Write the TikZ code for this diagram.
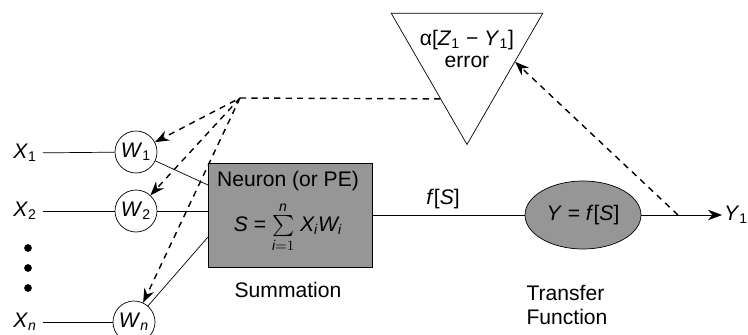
\documentclass[tikz,border=0pt]{standalone}
\usepackage{amsmath}
\usepackage{fontspec}
\setmainfont{Liberation Sans}
\usepackage{tikz}
\usetikzlibrary{arrows.meta, positioning, calc, shapes.geometric}
\definecolor{nnshade}{RGB}{150, 150, 150}

\begin{document}
\begin{tikzpicture}[x=0.02cm, y=-0.02cm, >={Stealth[length=8pt, width=6pt]}, font=\large,
  weight/.style={circle, draw, thin, minimum size=0.84cm, inner sep=0pt},
  wire/.style={thin},
  fb/.style={thick, dash pattern=on 3.5pt off 3pt}]

  \useasboundingbox (0,0) rectangle (748,335);

  % --- inputs and weights ---
  \node (x1) at (25,153) {\textit{X}\textsubscript{1}};
  \node (x2) at (25,211) {\textit{X}\textsubscript{2}};
  \node (xn) at (25,322) {\textit{X}\textsubscript{\textit{n}}};

  \node[weight] (w1) at (136,152) {\textit{W}\textsubscript{1}};
  \node[weight] (w2) at (136,211) {\textit{W}\textsubscript{2}};
  \node[weight] (wn) at (134,322) {\textit{W}\textsubscript{\textit{n}}};

  \draw[wire] (x1) -- (w1);
  \draw[wire] (x2) -- (w2);
  \draw[wire] (xn) -- (wn);

  \fill (28,248) circle (2.2pt);
  \fill (28,268) circle (2.2pt);
  \fill (28,288) circle (2.2pt);

  % --- summation box ---
  \node[draw, fill=nnshade, minimum width=3.28cm, minimum height=2.08cm] (sum) at (290,215) {};
  \node[align=center, inner sep=1pt] (neur) at (288,212)
    {Neuron (or PE)\\[5pt]
     \textit{S} = $\sum\limits_{\textit{i}=1}^{\textit{n}}$ \textit{X\textsubscript{i}W\textsubscript{i}}};
  \node (summ) at (288,290) {Summation};

  \coordinate (in1) at (208,185);
  \coordinate (in2) at (208,211);
  \coordinate (inn) at (208,237);
  \draw[wire] (w1) -- (in1);
  \draw[wire] (w2) -- (in2);
  \draw[wire] (wn) -- (inn);

  % --- transfer function ---
  \node[ellipse, draw, fill=nnshade, minimum width=2.32cm, minimum height=1.36cm, inner sep=0pt] (tf) at (583,215)
    {\textit{Y} = \textit{f}[\textit{S}]};
  \node[align=left] (tflab) at (567,305) {Transfer\\Function};

  \draw[wire] (sum) -- (tf);
  \node (fs) at (443,199) {\textit{f}[\textit{S}]};

  \coordinate (yout) at (722,215);
  \draw[wire, ->] (tf) -- (yout);
  \node[anchor=west, inner sep=1pt] (y1) at (yout) {\textit{Y}\textsubscript{1}};

  % --- error triangle and feedback ---
  \node[regular polygon, regular polygon sides=3, shape border rotate=180, draw, thin,
        minimum size=3.5cm, inner sep=0pt] (err) at (467,57) {};
  \node[align=center] (errtxt) at (467,49) {α[\textit{Z}\textsubscript{1} − \textit{Y}\textsubscript{1}]\\[-1pt]error};

  \coordinate (hitl) at ($(err.corner 3)!0.65!(err.corner 1)$);
  \coordinate (hitr) at ($(err.corner 2)!0.37!(err.corner 1)$);
  \coordinate (crn) at (240,98);
  \coordinate (tap) at (678,215);

  \draw[fb, ->] (hitl) -- (crn) -- (w1);
  \draw[fb, ->] (crn) -- (w2);
  \draw[fb, ->] (crn) -- (wn);
  \draw[fb, ->] (tap) -- (hitr);

\end{tikzpicture}
\end{document}
